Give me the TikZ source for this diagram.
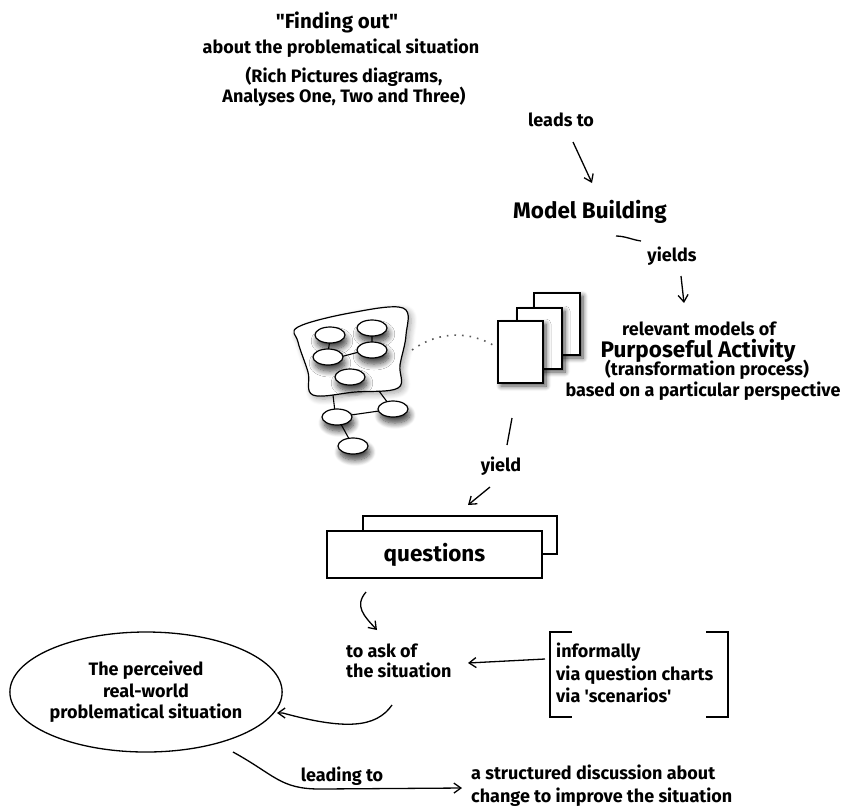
\documentclass[tikz,border=0pt]{standalone}
\usepackage{fontspec}
\setmainfont{Fira Sans}
\newfontfamily\hand{Fira Sans}[UprightFont=* Bold, BoldFont=* ExtraBold]
\usetikzlibrary{arrows.meta,shapes.geometric,shadows.blur}
\begin{document}
\begin{tikzpicture}[x=1pt,y=-1pt,
  ink/.style={line width=1.3pt,black},
  arr/.style={ink,-{Straight Barb[length=7pt,width=10pt,line width=1.3pt]}},
  txt/.style={font=\hand\fontsize{18}{20.5}\selectfont,align=center,inner sep=0pt},
  bigtxt/.style={font=\hand\fontsize{22.5}{24}\selectfont,align=center,inner sep=0pt},
  bubble/.style={ellipse,draw,line width=1.2pt,fill=white,minimum width=30pt,minimum height=16pt,inner sep=0pt,
    blur shadow={shadow xshift=2pt,shadow yshift=-6pt,shadow blur radius=6pt,shadow blur steps=10,shadow opacity=75}},
  sheet/.style={rectangle,draw,line width=1.3pt,fill=white,inner sep=0pt,
    blur shadow={shadow xshift=3pt,shadow yshift=-3pt,shadow blur radius=5pt,shadow blur steps=8,shadow opacity=70}},
  card/.style={rectangle,draw,line width=1.3pt,fill=white,inner sep=0pt}]
\useasboundingbox (0,0) rectangle (842,807);

% ---- finding out ----
\node[bigtxt,font=\hand\fontsize{20.5}{24}\selectfont] (find) at (337,22) {"Finding out"};
\node[txt] (about) at (341,48) {about the problematical situation};
\node[txt] (rich) at (344,87) {(Rich Pictures diagrams,\\Analyses One, Two and Three)};
\node[txt] (leads) at (561,120) {leads to};
\coordinate (l1) at (573,142);
\coordinate (l2) at (592,183);
\draw[arr] (l1) -- (l2);

% ---- model building ----
\node[bigtxt] (mb) at (590,212) {Model Building};
\coordinate (m1) at (616,236);
\coordinate (m2) at (641,241);
\draw[ink] (m1) .. controls (625,236) and (633,240) .. (m2);
\node[txt] (yields) at (672,256) {yields};
\coordinate (y1) at (681,276);
\coordinate (y2) at (684,303);
\draw[arr] (y1) -- (y2);

\node[txt] (rel) at (699,329) {relevant models of};
\node[bigtxt] (purp) at (698,351) {Purposeful Activity};
\node[txt] (trans) at (707,370) {(transformation process)};
\node[txt] (based) at (703,391) {based on a particular perspective};

% ---- stack of model sheets ----
\node[sheet,minimum width=46pt,minimum height=62pt] (s3) at (557,324) {};
\node[sheet,minimum width=45pt,minimum height=61pt] (s2) at (539.5,338.5) {};
\node[sheet,minimum width=45pt,minimum height=62pt] (s1) at (520.5,352) {};

% ---- rich picture sketch ----
\fill[white,blur shadow={shadow xshift=3pt,shadow yshift=-3pt,shadow blur radius=6pt,shadow blur steps=8,shadow opacity=35}]
  plot[smooth cycle,tension=0.6] coordinates {(298,327) (350,313) (403,308) (406,335) (400,365) (398,388) (355,392) (313,395) (308,372) (298,342)};
\draw[line width=1.2pt]
  plot[smooth cycle,tension=0.6] coordinates {(298,327) (350,313) (403,308) (406,335) (400,365) (398,388) (355,392) (313,395) (308,372) (298,342)};
\coordinate (b1) at (333,395);
\coordinate (b2) at (379,391);
\draw[line width=1.1pt] (330,340) -- (328,352) (372,333) -- (372,345) (340,357) -- (359,352);
\draw[line width=1.1pt] (b1) -- (335,412) (b2) -- (388,403) (337,417) -- (393,409) (337,417) -- (353,446);
\node[bubble] (e1) at (330,335) {};
\node[bubble] (e2) at (372,328) {};
\node[bubble] (e3) at (328,357) {};
\node[bubble] (e4) at (372,350) {};
\node[bubble] (e5) at (350,377) {};
\node[bubble] (e6) at (337,417) {};
\node[bubble] (e7) at (393,409) {};
\node[bubble] (e8) at (353,446) {};

% dotted link between sketch and sheets
\coordinate (d1) at (412,350);
\coordinate (d2) at (493,345);
\draw[line width=1.6pt,dash pattern=on 1.6pt off 6pt,gray!70!black] (d1) .. controls (440,330) and (470,332) .. (d2);

% ---- questions ----
\coordinate (q1) at (512,418);
\coordinate (q2) at (507,445);
\draw[ink] (q1) -- (q2);
\node[txt] (yield) at (501,466) {yield};
\coordinate (q3) at (490,487);
\coordinate (q4) at (468,505);
\draw[arr] (q3) -- (q4);
\node[card,minimum width=194pt,minimum height=38pt] (qback) at (460,535) {};
\node[card,minimum width=215pt,minimum height=47pt,font=\hand\fontsize{22.5}{24}\selectfont] (qfront) at (434.5,554.5) {questions};

\coordinate (c1) at (366,592);
\coordinate (c2) at (377,630);
\draw[arr] (c1) .. controls (354,606) and (364,616) .. (c2);

\node[txt,align=left,anchor=west] (ask) at (346,661) {to ask of\\the situation};

% ---- bracket of ways to ask ----
\node[txt,align=left,anchor=west,font=\hand\fontsize{18}{22.5}\selectfont] (ways) at (556,673) {informally\\via question charts\\via 'scenarios'};
\draw[ink] (572,632) -- (550,632) -- (550,717) -- (572,717);
\draw[ink] (706,632) -- (728,632) -- (728,717) -- (706,717);
\coordinate (w1) at (545,659);
\coordinate (w2) at (468,663);
\draw[arr] (w1) -- (w2);

% ---- perceived situation ----
\node[ellipse,draw,line width=1.3pt,minimum width=266pt,minimum height=120pt,txt,font=\hand\fontsize{18}{21.5}\selectfont] (sit) at (146,692) {The perceived\\real-world\\problematical situation};
\coordinate (p1) at (392,705);
\draw[arr] (p1) .. controls (376,728) and (345,730) .. (sit.east |- 0,713) -- (277,713);

\coordinate (r1) at (233,752);
\coordinate (r2) at (462,788);
\draw[arr] (r1) .. controls (275,775) and (280,789) .. (320,789) -- (r2);
\node[txt] (leading) at (342,776) {leading to};
\node[txt,align=left,anchor=west,font=\hand\fontsize{18}{23}\selectfont] (disc) at (471,786) {a structured discussion about\\change to improve the situation};
\end{tikzpicture}
\end{document}
